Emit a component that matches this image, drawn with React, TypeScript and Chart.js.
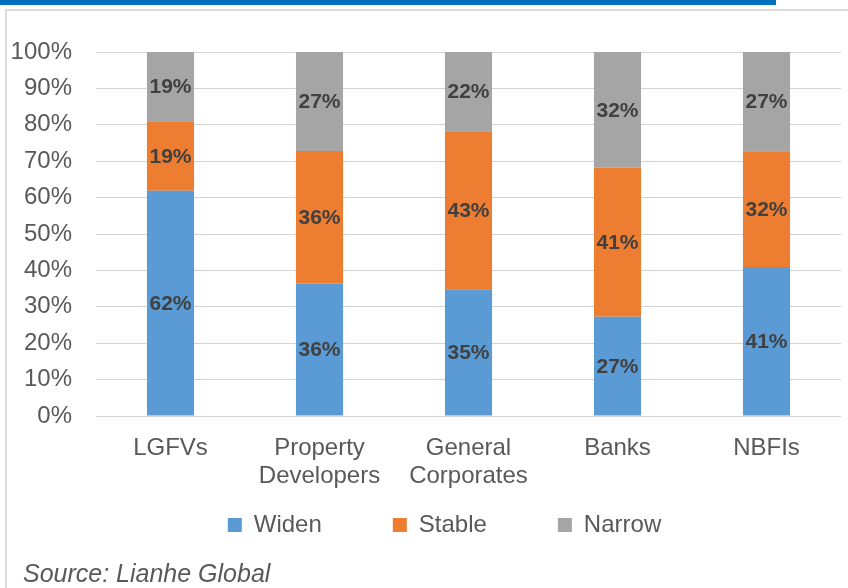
import React, { useEffect, useRef } from "react";
import { Chart, registerables } from "chart.js";

Chart.register(...registerables);

const categories: (string | string[])[] = [
  "LGFVs",
  ["Property", "Developers"],
  ["General", "Corporates"],
  "Banks",
  "NBFIs",
];
const widen = [61.9, 36.4, 34.8, 27.3, 40.9];
const stable = [19.05, 36.4, 43.4, 40.9, 31.8];
const narrow = [19.05, 27.3, 21.8, 31.8, 27.3];
const seriesNames = ["Widen", "Stable", "Narrow"];
const yTicks = [0, 10, 20, 30, 40, 50, 60, 70, 80, 90, 100];
const sourceText = "Source: Lianhe Global";

const FONT = "'Liberation Sans', Arial, sans-serif";

const framePlugin = {
  id: "frame",
  beforeDraw(chart: any) {
    const { ctx, width, height } = chart;
    ctx.save();
    ctx.fillStyle = "#ffffff";
    ctx.fillRect(0, 0, width, height);
    ctx.fillStyle = "#0070C0";
    ctx.fillRect(0, 0, 776, 5);
    ctx.fillStyle = "#DCDCDC";
    ctx.fillRect(5, 9, width - 5, 2);
    ctx.fillRect(5, 9, 2, height - 9);
    ctx.restore();
  },
  afterDraw(chart: any) {
    const { ctx } = chart;
    ctx.save();
    ctx.fillStyle = "#595959";
    ctx.font = `italic 25px ${FONT}`;
    ctx.textAlign = "left";
    ctx.textBaseline = "alphabetic";
    ctx.fillText(sourceText, 23, 582);
    ctx.restore();
  },
};

const labelPlugin = {
  id: "segLabels",
  afterDatasetsDraw(chart: any) {
    const { ctx } = chart;
    ctx.save();
    ctx.font = `bold 21px ${FONT}`;
    ctx.fillStyle = "#404040";
    ctx.textAlign = "center";
    ctx.textBaseline = "middle";
    chart.data.datasets.forEach((ds: any, di: number) => {
      const meta = chart.getDatasetMeta(di);
      meta.data.forEach((bar: any, i: number) => {
        const v = ds.data[i];
        const y = (bar.y + bar.base) / 2;
        ctx.fillText(`${Math.round(v)}%`, bar.x, y + 1);
      });
    });
    ctx.restore();
  },
};

const LEGEND_PAD = 71;
const legendShiftPlugin = {
  id: "legendShift",
  afterLayout(chart: any) {
    const lg = chart.legend;
    if (lg) {
      lg.left += 24;
      lg.right += 24;
      const top = 525 - LEGEND_PAD - 12;
      lg.top = top;
      lg.bottom = 560;
      lg.height = lg.bottom - lg.top;
    }
  },
};

export default function App() {
  const ref = useRef<HTMLCanvasElement | null>(null);
  useEffect(() => {
    if (!ref.current) return;
    const chart = new Chart(ref.current, {
      type: "bar",
      data: {
        labels: categories,
        datasets: [
          { label: seriesNames[0], data: widen, backgroundColor: "#5B9BD5", borderWidth: 0 },
          { label: seriesNames[1], data: stable, backgroundColor: "#ED7D31", borderWidth: 0 },
          { label: seriesNames[2], data: narrow, backgroundColor: "#A5A5A5", borderWidth: 0 },
        ],
      },
      options: {
        animation: false,
        responsive: false,
        maintainAspectRatio: false,
        layout: { padding: { left: 0, right: 7, top: 52, bottom: 52 } },
        datasets: { bar: { categoryPercentage: 1, barPercentage: 0.316 } },
        scales: {
          x: {
            stacked: true,
            grid: { display: false },
            border: { display: false },
            ticks: {
              color: "#595959",
              font: { family: FONT, size: 24, lineHeight: 1.17 },
              padding: 10,
              maxRotation: 0,
              autoSkip: false,
            },
            afterFit(s: any) {
              s.height = 80;
            },
          },
          y: {
            stacked: true,
            min: 0,
            max: 100,
            afterBuildTicks(s: any) {
              s.ticks = yTicks.map((v) => ({ value: v }));
            },
            grid: { color: "#D3D3D3", lineWidth: 1, drawTicks: false },
            border: { display: false },
            ticks: {
              color: "#595959",
              font: { family: FONT, size: 24 },
              padding: 24,
              callback: (v: any) => `${v}%`,
            },
            afterFit(s: any) {
              s.width = 96;
            },
          },
        },
        plugins: {
          legend: {
            position: "bottom",
            maxHeight: 40,
            labels: {
              boxWidth: 14,
              boxHeight: 14,
              padding: LEGEND_PAD,
              color: "#595959",
              font: { family: FONT, size: 24 },
            },
          },
          tooltip: { enabled: false },
          title: { display: false },
        },
      },
      plugins: [framePlugin, labelPlugin, legendShiftPlugin],
    });
    return () => chart.destroy();
  }, []);
  return (
    <div style={{ position: "absolute", left: 0, top: 0, width: 848, height: 588 }}>
      <canvas ref={ref} width={848} height={588} style={{ width: 848, height: 588, display: "block" }} />
    </div>
  );
}
